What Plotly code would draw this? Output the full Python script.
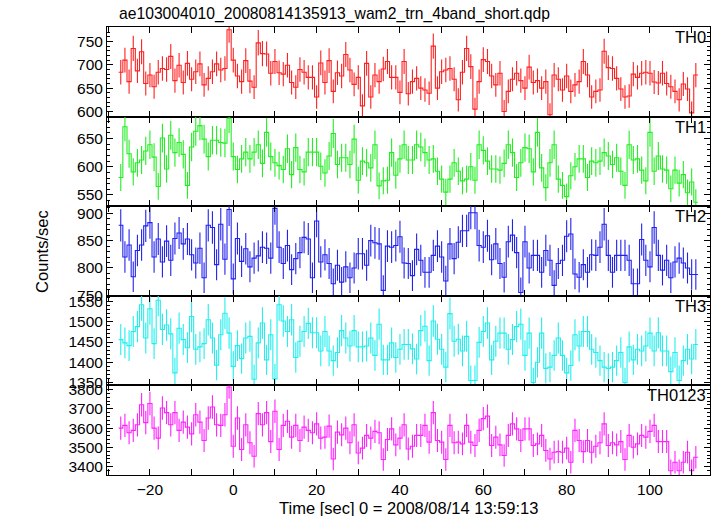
import numpy as np
import plotly.graph_objects as go
from plotly.subplots import make_subplots

title_text = "ae103004010_20080814135913_wam2_trn_4band_short.qdp"
x_title = "Time [sec] 0 = 2008/08/14 13:59:13"
y_title = "Counts/sec"

time_sec = list(range(-27, 112))  # bin centres, 1 s bins

band_names = ["TH0", "TH1", "TH2", "TH3", "TH0123"]
band_colors = ["#ff2020", "#22ee22", "#2222ee", "#22eeee", "#ff22ff"]

th0 = [684, 710, 664, 735, 687, 728, 660, 678, 653, 684, 692, 690, 718, 666, 699, 662, 703, 669, 685, 702,
       657, 671, 685, 702, 689, 692, 775, 710, 676, 664, 709, 665, 652, 747, 724, 723, 682, 707, 683, 680,
       699, 662, 652, 690, 684, 673, 673, 631, 704, 662, 709, 643, 683, 676, 722, 689,
       658, 673, 612, 703, 631, 678, 664, 691, 707, 673, 673, 641, 707, 638, 664, 671, 650, 646, 639, 740,
       650, 685, 689, 692, 669, 625, 684, 735, 696, 605, 664, 711, 707, 676, 657, 682, 600, 643, 669, 682,
       666, 650, 695, 662, 666, 650, 664, 593, 678, 669, 646, 676, 643, 657, 664, 707, 678,
       631, 643, 646, 729, 694, 692, 671, 648, 631, 633, 680, 673, 682, 684, 682, 663, 661, 682, 660, 653,
       643, 625, 659, 648, 597, 678]

th1 = [581, 671, 623, 591, 607, 612, 628, 639, 617, 565, 651, 596, 656, 625, 643, 622, 567, 635, 663, 673,
       649, 618, 647, 647, 643, 642, 686, 618, 595, 614, 626, 614, 626, 639, 606, 661, 618, 607, 602, 595,
       632, 586, 634, 595, 591, 626, 626, 626, 601, 589, 619, 659, 604, 616, 616, 604,
       649, 576, 610, 607, 598, 639, 566, 575, 576, 625, 585, 614, 639, 612, 612, 639, 635, 625, 612, 614,
       592, 578, 555, 578, 607, 592, 575, 578, 600, 576, 639, 629, 610, 596, 596, 594, 606, 639, 625, 581,
       607, 634, 632, 591, 661, 598, 563, 607, 639, 578, 567, 547, 584, 600, 614, 614, 581, 610, 607, 610,
       625, 619, 604, 616, 592, 567, 639, 612, 614, 594, 575, 661, 592, 619, 596, 594, 561, 594, 571, 586,
       554, 573, 537]

th2 = [878, 820, 842, 784, 832, 842, 877, 883, 820, 853, 811, 849, 814, 854, 864, 844, 853, 824, 809, 836,
       782, 878, 874, 806, 880, 816, 907, 780, 854, 812, 835, 802, 818, 822, 838, 836, 818, 909, 838, 808,
       841, 797, 817, 828, 856, 853, 782, 886, 811, 824, 808, 771, 805, 774, 802, 782,
       800, 826, 826, 805, 850, 846, 844, 759, 840, 838, 841, 857, 809, 808, 786, 834, 814, 792, 792, 823,
       840, 820, 776, 844, 817, 847, 868, 868, 901, 901, 841, 838, 859, 815, 844, 808, 783, 848, 860, 828,
       755, 848, 800, 823, 823, 792, 832, 814, 768, 808, 814, 858, 862, 789, 783, 806, 792, 824, 823, 838,
       880, 823, 792, 823, 823, 823, 814, 771, 771, 852, 814, 802, 874, 823, 796, 814, 782, 811, 818, 809,
       800, 788, 788]

th3 = [1456, 1448, 1441, 1476, 1488, 1542, 1460, 1532, 1446, 1553, 1481, 1492, 1470, 1374, 1484, 1456, 1436,
       1513, 1432, 1438, 1446, 1505, 1460, 1393, 1468, 1521, 1472, 1390, 1441, 1409, 1460, 1464, 1358, 1448,
       1497, 1406, 1468, 1359, 1542, 1502, 1476, 1505, 1412, 1452, 1476, 1496, 1473, 1473, 1428, 1476, 1428,
       1404, 1424, 1478, 1460, 1440,
       1478, 1438, 1438, 1440, 1460, 1417, 1494, 1406, 1406, 1448, 1412, 1432, 1444, 1444, 1433, 1408, 1478,
       1489, 1404, 1502, 1457, 1432, 1388, 1520, 1452, 1457, 1428, 1464, 1355, 1355, 1449, 1476, 1497, 1406,
       1452, 1472, 1472, 1432, 1456, 1488, 1494, 1417, 1472, 1350, 1400, 1472, 1385, 1388, 1417, 1460, 1417,
       1374, 1392, 1468, 1440, 1476, 1476, 1432, 1424, 1404, 1388, 1385, 1388, 1404, 1424, 1350, 1438, 1406,
       1432, 1428, 1440, 1472, 1428, 1473, 1428, 1428, 1377, 1424, 1355, 1404, 1432, 1408, 1444]

th0123 = [3600, 3614, 3576, 3588, 3617, 3721, 3628, 3727, 3600, 3548, 3704, 3680, 3617, 3680, 3588, 3631,
          3605, 3570, 3669, 3631, 3536, 3652, 3709, 3617, 3614, 3669, 3813, 3506, 3652, 3489, 3617, 3524,
          3454, 3675, 3617, 3680, 3530, 3687, 3489, 3614, 3635, 3553, 3614, 3536, 3605, 3588, 3576, 3622,
          3548, 3553, 3610, 3440, 3579, 3565, 3600, 3524,
          3617, 3471, 3496, 3562, 3548, 3583, 3576, 3437, 3541, 3596, 3513, 3548, 3617, 3492, 3506, 3562,
          3562, 3614, 3527, 3680, 3536, 3527, 3437, 3614, 3524, 3527, 3518, 3614, 3527, 3510, 3588, 3649,
          3662, 3510, 3553, 3513, 3458, 3562, 3622, 3596, 3536, 3596, 3596, 3510, 3518, 3562, 3484, 3440,
          3475, 3478, 3475, 3496, 3423, 3588, 3536, 3478, 3536, 3475, 3506, 3524, 3622, 3510, 3524, 3513,
          3530, 3437, 3562, 3501, 3518, 3562, 3553, 3583, 3614, 3530, 3530, 3530, 3379, 3423, 3379, 3423,
          3475, 3379, 3449]

series = [th0, th1, th2, th3, th0123]
y_ranges = [[589, 781], [530, 689], [749, 913], [1343, 1564], [3357, 3821]]
major_dt = [50, 50, 50, 50, 100]
minor_dt = [10, 10, 10, 10, 20]

FONT = "Liberation Sans, Arial, sans-serif"

fig = make_subplots(rows=5, cols=1, shared_xaxes=True, vertical_spacing=0)

t = np.array(time_sec, dtype=float)
for i, (vals, col) in enumerate(zip(series, band_colors)):
    v = np.array(vals, dtype=float)
    err = np.sqrt(v)
    # step outline over the bin edges
    xs = np.append(t - 0.5, t[-1] + 0.5)
    ys = np.append(v, v[-1])
    fig.add_trace(go.Scatter(x=xs, y=ys, mode="lines", line=dict(color=col, width=1.1, shape="hv"),
                             showlegend=False, hoverinfo="skip"), row=i + 1, col=1)
    fig.add_trace(go.Scatter(x=t, y=v, mode="markers", marker=dict(size=0.1, color=col, opacity=0),
                             error_y=dict(type="data", array=err, visible=True, width=0,
                                          thickness=1.1, color=col),
                             showlegend=False), row=i + 1, col=1)
    fig.update_yaxes(range=y_ranges[i], dtick=major_dt[i], tick0=0, ticks="inside", ticklen=6,
                     tickcolor="black", tickwidth=1, showline=True, linecolor="black", linewidth=1,
                     mirror="ticks", showgrid=False, zeroline=False,
                     tickfont=dict(family=FONT, size=15.5, color="black"),
                     minor=dict(dtick=minor_dt[i], ticks="inside", ticklen=3, tickcolor="black",
                                showgrid=False),
                     row=i + 1, col=1)
    fig.update_xaxes(range=[-30.3, 114.4], dtick=20, tick0=0, ticks="inside", ticklen=6,
                     tickcolor="black", tickwidth=1, showline=True, linecolor="black", linewidth=1,
                     mirror="ticks", showgrid=False, zeroline=False,
                     tickfont=dict(family=FONT, size=15.5, color="black"),
                     minor=dict(dtick=10, ticks="inside", ticklen=6, tickcolor="black", showgrid=False),
                     row=i + 1, col=1)
    yname = "y" if i == 0 else f"y{i + 1}"
    fig.add_annotation(text=band_names[i], xref="paper", x=1.0, xanchor="right", xshift=-2,
                       yref=f"{yname} domain", y=1.0, yanchor="top", yshift=1, showarrow=False,
                       font=dict(family=FONT, size=16.5, color="black"))

fig.add_annotation(text=title_text, xref="paper", x=10 / 603, xanchor="left", yref="paper", y=1.0,
                   yanchor="bottom", yshift=2, showarrow=False,
                   font=dict(family=FONT, size=15.7, color="black"))
fig.add_annotation(text=y_title, xref="paper", x=-0.108, xanchor="center", yref="paper", y=0.5,
                   yanchor="middle", textangle=-90, showarrow=False,
                   font=dict(family=FONT, size=16.5, color="black"))
fig.add_annotation(text=x_title, xref="paper", x=0.5, xanchor="center", yref="paper", y=0.0,
                   yanchor="top", yshift=-22, showarrow=False,
                   font=dict(family=FONT, size=16.5, color="black"))

fig.update_layout(width=717, height=516, margin=dict(l=107, r=7, t=27, b=41),
                  plot_bgcolor="white", paper_bgcolor="white", showlegend=False)

fig.write_html("out.html", config={"displayModeBar": False},
               post_script="document.body.style.margin='0px';document.body.style.padding='0px';")
